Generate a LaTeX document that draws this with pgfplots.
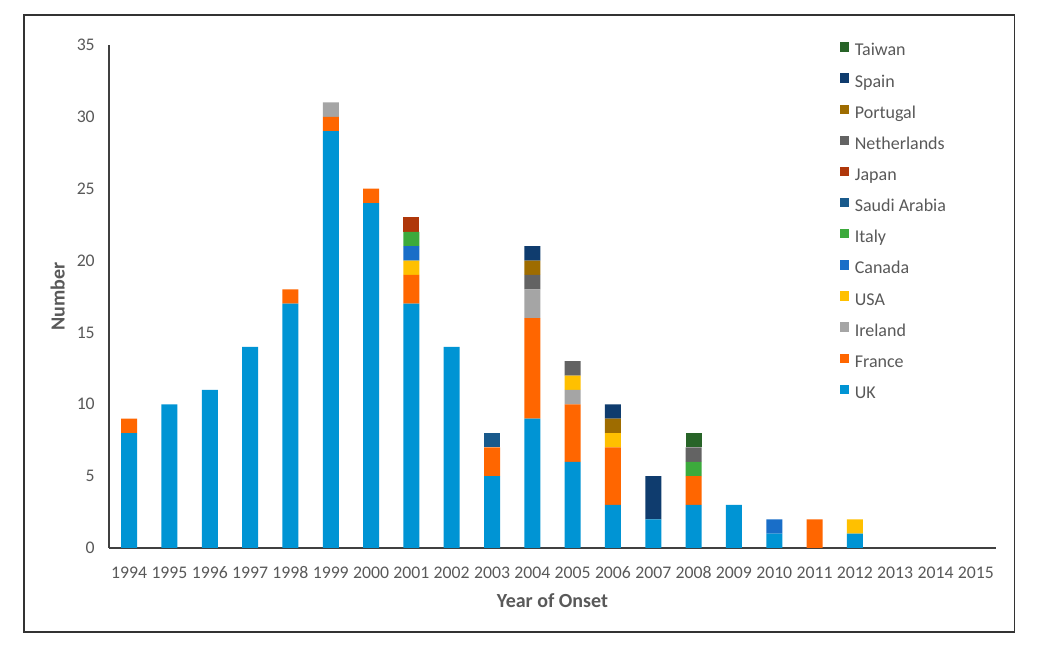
\documentclass[border=0pt]{standalone}
\usepackage{fontspec}
\setmainfont{Carlito}
\usepackage{pgfplots}
\pgfplotsset{compat=1.18}

\definecolor{txt}{RGB}{89,89,89}
\definecolor{cUK}{RGB}{0,148,212}
\definecolor{cFR}{RGB}{255,102,0}
\definecolor{cIE}{RGB}{165,165,165}
\definecolor{cUS}{RGB}{255,192,0}
\definecolor{cCA}{RGB}{25,110,200}
\definecolor{cIT}{RGB}{60,170,60}
\definecolor{cSA}{RGB}{25,90,140}
\definecolor{cJP}{RGB}{175,55,10}
\definecolor{cNL}{RGB}{99,99,99}
\definecolor{cPT}{RGB}{158,108,0}
\definecolor{cES}{RGB}{15,60,110}
\definecolor{cTW}{RGB}{40,100,40}

\begin{document}
\begin{tikzpicture}
\fill[white] (0pt,0pt) rectangle (780pt,495pt);
\draw[line width=0.9pt, black!80] (18pt,21pt) rectangle (761pt,483.75pt);
\begin{axis}[
    name=ax,
    at={(81.75pt,84pt)}, anchor=south west,
    scale only axis, width=665.25pt, height=377.25pt,
    ybar stacked, bar width=12pt,
    xmin=-0.5, xmax=21.5, ymin=0, ymax=35,
    ytick={0,5,...,35},
    xtick={0,...,21},
    xticklabels={1994,1995,1996,1997,1998,1999,2000,2001,2002,2003,2004,2005,2006,2007,2008,2009,2010,2011,2012,2013,2014,2015},
    major tick length=0pt,
    axis x line*=bottom, axis y line*=left,
    axis line style={line width=1pt, black!75},
    /pgf/number format/assume math mode=true,
    tick label style={font=\fontsize{13.3}{15}\selectfont, text=txt, inner sep=0pt},
    xticklabel style={anchor=base, yshift=-23.25pt},
    yticklabel style={anchor=east, xshift=-10.5pt},
    xlabel={Year of Onset},
    xlabel style={font=\bfseries\fontsize{15}{17}\selectfont, text=txt, inner sep=0pt,
        at={(axis description cs:0.5,0)}, anchor=north, yshift=-34pt},
    every axis plot/.append style={draw=none},
    reverse legend, legend cell align=left,
    legend image code/.code={\fill[#1,draw=none] (0pt,0.3pt) rectangle (7pt,7.3pt);},
    legend style={at={(axis description cs:0.824,1.006)}, anchor=north west,
        draw=none, fill=none, inner sep=0pt,
        font=\fontsize{13.5}{15}\selectfont, text=txt,
        row sep=10.05pt,
        nodes={inner sep=0pt, text height=9pt, text depth=3pt},
        /tikz/every odd column/.append style={column sep=4pt}},
]
\addplot[fill=cUK] coordinates {(0,8) (1,10) (2,11) (3,14) (4,17) (5,29) (6,24) (7,17) (8,14) (9,5) (10,9) (11,6) (12,3) (13,2) (14,3) (15,3) (16,1) (17,0) (18,1) (19,0) (20,0) (21,0)};
\addplot[fill=cFR] coordinates {(0,1) (1,0) (2,0) (3,0) (4,1) (5,1) (6,1) (7,2) (8,0) (9,2) (10,7) (11,4) (12,4) (13,0) (14,2) (15,0) (16,0) (17,2) (18,0) (19,0) (20,0) (21,0)};
\addplot[fill=cIE] coordinates {(0,0) (1,0) (2,0) (3,0) (4,0) (5,1) (6,0) (7,0) (8,0) (9,0) (10,2) (11,1) (12,0) (13,0) (14,0) (15,0) (16,0) (17,0) (18,0) (19,0) (20,0) (21,0)};
\addplot[fill=cUS] coordinates {(0,0) (1,0) (2,0) (3,0) (4,0) (5,0) (6,0) (7,1) (8,0) (9,0) (10,0) (11,1) (12,1) (13,0) (14,0) (15,0) (16,0) (17,0) (18,1) (19,0) (20,0) (21,0)};
\addplot[fill=cCA] coordinates {(0,0) (1,0) (2,0) (3,0) (4,0) (5,0) (6,0) (7,1) (8,0) (9,0) (10,0) (11,0) (12,0) (13,0) (14,0) (15,0) (16,1) (17,0) (18,0) (19,0) (20,0) (21,0)};
\addplot[fill=cIT] coordinates {(0,0) (1,0) (2,0) (3,0) (4,0) (5,0) (6,0) (7,1) (8,0) (9,0) (10,0) (11,0) (12,0) (13,0) (14,1) (15,0) (16,0) (17,0) (18,0) (19,0) (20,0) (21,0)};
\addplot[fill=cSA] coordinates {(0,0) (1,0) (2,0) (3,0) (4,0) (5,0) (6,0) (7,0) (8,0) (9,1) (10,0) (11,0) (12,0) (13,0) (14,0) (15,0) (16,0) (17,0) (18,0) (19,0) (20,0) (21,0)};
\addplot[fill=cJP] coordinates {(0,0) (1,0) (2,0) (3,0) (4,0) (5,0) (6,0) (7,1) (8,0) (9,0) (10,0) (11,0) (12,0) (13,0) (14,0) (15,0) (16,0) (17,0) (18,0) (19,0) (20,0) (21,0)};
\addplot[fill=cNL] coordinates {(0,0) (1,0) (2,0) (3,0) (4,0) (5,0) (6,0) (7,0) (8,0) (9,0) (10,1) (11,1) (12,0) (13,0) (14,1) (15,0) (16,0) (17,0) (18,0) (19,0) (20,0) (21,0)};
\addplot[fill=cPT] coordinates {(0,0) (1,0) (2,0) (3,0) (4,0) (5,0) (6,0) (7,0) (8,0) (9,0) (10,1) (11,0) (12,1) (13,0) (14,0) (15,0) (16,0) (17,0) (18,0) (19,0) (20,0) (21,0)};
\addplot[fill=cES] coordinates {(0,0) (1,0) (2,0) (3,0) (4,0) (5,0) (6,0) (7,0) (8,0) (9,0) (10,1) (11,0) (12,1) (13,3) (14,0) (15,0) (16,0) (17,0) (18,0) (19,0) (20,0) (21,0)};
\addplot[fill=cTW] coordinates {(0,0) (1,0) (2,0) (3,0) (4,0) (5,0) (6,0) (7,0) (8,0) (9,0) (10,0) (11,0) (12,0) (13,0) (14,1) (15,0) (16,0) (17,0) (18,0) (19,0) (20,0) (21,0)};
\legend{UK,France,Ireland,USA,Canada,Italy,Saudi Arabia,Japan,Netherlands,Portugal,Spain,Taiwan}
\end{axis}
\node[rotate=90, anchor=south, inner sep=0pt, text=txt,
      font=\bfseries\fontsize{15}{17}\selectfont] at ([xshift=-33pt]ax.west) {Number};
\end{tikzpicture}
\end{document}
